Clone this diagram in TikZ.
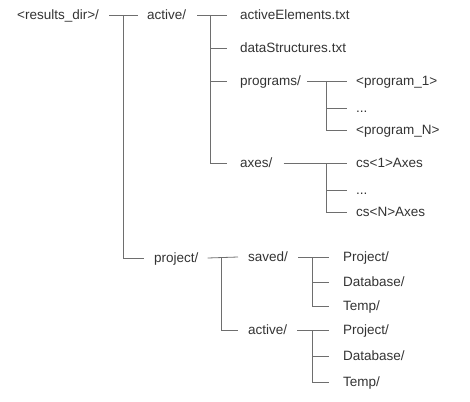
\documentclass[tikz,border=0pt]{standalone}
\usepackage{fontspec}
\setmainfont{Liberation Sans}
\usetikzlibrary{positioning}
\definecolor{inkgray}{HTML}{333333}
\definecolor{wiregray}{HTML}{6E6E6E}

\begin{document}
\begin{tikzpicture}[
  x=1pt,y=-1pt,
  entry/.style={anchor=west,inner sep=0pt,text=inkgray,
    text height=12pt,text depth=2.5pt,
    font=\fontsize{13.5}{16}\selectfont},
  wire/.style={draw=wiregray,line width=0.8pt}
]
  \useasboundingbox (0,0) rectangle (470,401);

  % top level
  \node[entry] (root) at (17,15) {<results\_dir>/};
  \node[entry] (active) at (147,15) {active/};
  \node[entry] (project) at (154,258) {project/};
  \coordinate (rootj) at (123,15);
  \draw[wire] ([xshift=10pt]root.east) -- ([xshift=-9pt]active.west);
  \draw[wire] (rootj) |- ([xshift=-10pt]project.west);

  % active/
  \node[entry] (elems) at (240,15) {activeElements.txt};
  \node[entry] (structs) at (240,48) {dataStructures.txt};
  \node[entry] (progs) at (240,81) {programs/};
  \node[entry] (axes) at (240,163) {axes/};
  \coordinate (activej) at (210,15);
  \draw[wire] ([xshift=11pt]active.east) -- ([xshift=-13pt]elems.west);
  \draw[wire] (activej) |- ([xshift=-13pt]axes.west);
  \foreach \n in {structs,progs}
    \draw[wire] (activej |- \n.west) -- ([xshift=-13pt]\n.west);

  % programs/
  \node[entry] (prog1) at (356,81) {<program\_1>};
  \node[entry] (progdots) at (356,108) {...};
  \node[entry] (progN) at (356,130) {<program\_N>};
  \coordinate (progsj) at (326,81);
  \draw[wire] ([xshift=6pt]progs.east) -- ([xshift=-9pt]prog1.west);
  \draw[wire] (progsj) |- ([xshift=-9pt]progN.west);
  \draw[wire] (progsj |- progdots.west) -- ([xshift=-9pt]progdots.west);

  % axes/
  \node[entry] (cs1) at (356,163) {cs<1>Axes};
  \node[entry] (csdots) at (356,190) {...};
  \node[entry] (csN) at (356,212) {cs<N>Axes};
  \coordinate (axesj) at (326,163);
  \draw[wire] ([xshift=11pt]axes.east) -- ([xshift=-9pt]cs1.west);
  \draw[wire] (axesj) |- ([xshift=-9pt]csN.west);
  \draw[wire] (axesj |- csdots.west) -- ([xshift=-9pt]csdots.west);

  % project/
  \node[entry] (saved) at (248,257) {saved/};
  \node[entry] (pactive) at (248,330) {active/};
  \coordinate (projectj) at (221,257);
  \draw[wire] ([xshift=9pt]project.east) -- ([xshift=-10pt]saved.west);
  \draw[wire] (projectj) |- ([xshift=-10pt]pactive.west);

  % saved/
  \node[entry] (sproj) at (343,257) {Project/};
  \node[entry] (sdb) at (343,282) {Database/};
  \node[entry] (stemp) at (343,306) {Temp/};
  \coordinate (savedj) at (312,257);
  \draw[wire] ([xshift=10pt]saved.east) -- ([xshift=-14pt]sproj.west);
  \draw[wire] (savedj) |- ([xshift=-14pt]stemp.west);
  \draw[wire] (savedj |- sdb.west) -- ([xshift=-14pt]sdb.west);

  % active/ of project/
  \node[entry] (aproj) at (343,330) {Project/};
  \node[entry] (adb) at (343,356) {Database/};
  \node[entry] (atemp) at (343,382) {Temp/};
  \coordinate (pactivej) at (312,330);
  \draw[wire] ([xshift=10pt]pactive.east) -- ([xshift=-14pt]aproj.west);
  \draw[wire] (pactivej) |- ([xshift=-14pt]atemp.west);
  \draw[wire] (pactivej |- adb.west) -- ([xshift=-14pt]adb.west);
\end{tikzpicture}
\end{document}
